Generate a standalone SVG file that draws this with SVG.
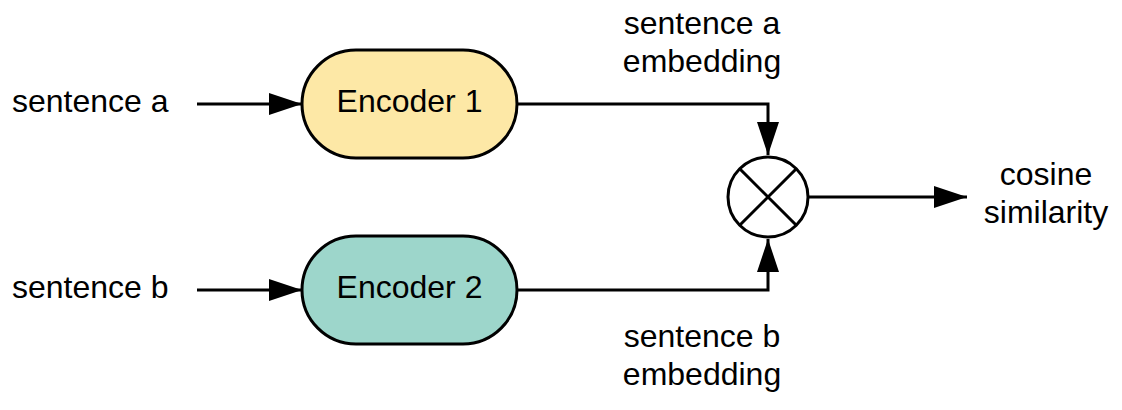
<svg xmlns="http://www.w3.org/2000/svg" width="1122" height="410" viewBox="0 0 1122 410">
<style>
text{font-family:"Liberation Sans",Arial,sans-serif;font-size:32px;fill:#000}
.enc{stroke:#000;stroke-width:3}
.conn{fill:none;stroke:#000;stroke-width:3}
</style>
<defs>
<marker id="arr" markerUnits="userSpaceOnUse" markerWidth="34" markerHeight="22" refX="33" refY="11" orient="auto">
<path d="M0,0 L33,11 L0,22 z" fill="#000"/>
</marker>
</defs>
<rect width="1122" height="410" fill="#fff"/>
<g id="label-a"><text x="12" y="112">sentence a</text></g>
<g id="label-b"><text x="12" y="298">sentence b</text></g>
<g id="encoder1"><rect class="enc" x="302" y="50" width="215" height="108" rx="54" fill="#FDE8A6"/><text x="409.5" y="112" text-anchor="middle">Encoder 1</text></g>
<g id="encoder2"><rect class="enc" x="302" y="236" width="215" height="108" rx="54" fill="#9DD6CB"/><text x="409.5" y="298" text-anchor="middle">Encoder 2</text></g>
<g id="multiply"><circle cx="768" cy="197" r="40" fill="#fff" stroke="#000" stroke-width="3"/><path d="M739.7,168.7 L796.3,225.3 M796.3,168.7 L739.7,225.3" stroke="#000" stroke-width="3"/></g>
<g id="label-ea"><text x="702" y="34" text-anchor="middle">sentence a</text><text x="702" y="72" text-anchor="middle">embedding</text></g>
<g id="label-eb"><text x="702" y="347" text-anchor="middle">sentence b</text><text x="702" y="385" text-anchor="middle">embedding</text></g>
<g id="output"><text x="1046" y="185" text-anchor="middle">cosine</text><text x="1046" y="223" text-anchor="middle">similarity</text></g>
<g id="connectors">
<path class="conn" d="M197,104 L302,104" marker-end="url(#arr)"/>
<path class="conn" d="M197,290 L302,290" marker-end="url(#arr)"/>
<path class="conn" d="M517,104 L768,104 L768,155" marker-end="url(#arr)"/>
<path class="conn" d="M517,290 L768,290 L768,239" marker-end="url(#arr)"/>
<path class="conn" d="M808,197 L967,197" marker-end="url(#arr)"/>
</g>
</svg>
